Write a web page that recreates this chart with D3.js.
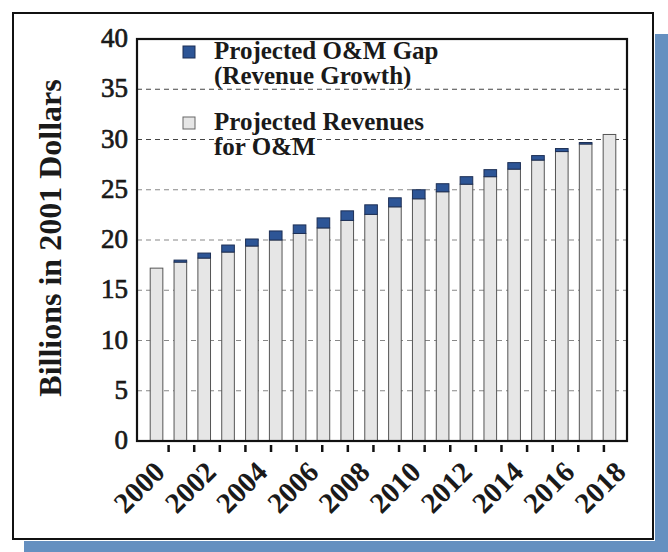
<!DOCTYPE html>
<html>
<head>
<meta charset="utf-8">
<script src="https://cdn.jsdelivr.net/npm/d3@7"></script>
<style>
  html, body { margin: 0; padding: 0; background: #fff; }
  svg { display: block; }
  text { font-family: 'Liberation Serif', 'Times New Roman', serif; fill: #1a1a1a; }
</style>
</head>
<body>
<div id="chart"></div>
<script>
// bars as drawn (one per year)
const barYears = ['2000', '2001', '2002', '2003', '2004', '2005', '2006', '2007', '2008', '2009',
  '2010', '2011', '2012', '2013', '2014', '2015', '2016', '2017', '2018', '2019'];
const revenue = [17.2, 17.8, 18.2, 18.8, 19.4, 20.0, 20.65, 21.2, 21.95, 22.55,
  23.3, 24.1, 24.8, 25.55, 26.3, 27.05, 27.95, 28.8, 29.55, 30.5];
const gap = [0, 0.2, 0.5, 0.7, 0.7, 0.9, 0.85, 1.0, 0.95, 0.95,
  0.9, 0.9, 0.8, 0.75, 0.7, 0.65, 0.45, 0.3, 0.15, 0];
// axis years (ticks / labels)
const axisYears = ['2000', '2001', '2002', '2003', '2004', '2005', '2006', '2007', '2008', '2009',
  '2010', '2011', '2012', '2013', '2014', '2015', '2016', '2017', '2018'];
const labelYears = ['2000', '2002', '2004', '2006', '2008', '2010', '2012', '2014', '2016', '2018'];
const yTicks = [0, 5, 10, 15, 20, 25, 30, 35, 40];
const legendItems = [
  { lines: ['Projected O&M Gap', '(Revenue Growth)'], color: '#2d5596' },
  { lines: ['Projected Revenues', 'for O&M'], color: '#e6e6e6' }
];

const width = 668;
const height = 552;
const plot = { left: 137, top: 39, right: 627, bottom: 441 };
const blue = '#2d5596';

const svg = d3.select('#chart')
  .append('svg')
  .attr('width', width)
  .attr('height', height);

// blue shadow behind the frame
svg.append('rect')
  .attr('x', 655).attr('y', 34)
  .attr('width', 13).attr('height', 518)
  .attr('fill', '#6590c0');
svg.append('rect')
  .attr('x', 24).attr('y', 541)
  .attr('width', 644).attr('height', 11)
  .attr('fill', '#6590c0');

// outer frame
svg.append('rect')
  .attr('x', 13).attr('y', 13)
  .attr('width', 640).attr('height', 526)
  .attr('fill', '#fff')
  .attr('stroke', '#111')
  .attr('stroke-width', 2);

const y = d3.scaleLinear()
  .domain([0, 40])
  .range([plot.bottom, plot.top]);

const xBar = d3.scaleBand()
  .domain(barYears)
  .range([139, plot.right])
  .padding(0.47);

const xAxis = d3.scaleBand()
  .domain(axisYears)
  .range([143, 629.5]);

// dashed grid lines
svg.append('g')
  .selectAll('line')
  .data(yTicks.filter(function (d) { return d > 0 && d < 40; }))
  .enter()
  .append('line')
  .attr('x1', plot.left)
  .attr('x2', plot.right)
  .attr('y1', function (d) { return y(d); })
  .attr('y2', function (d) { return y(d); })
  .attr('stroke', function (d) { return d >= 30 ? '#444' : '#888'; })
  .attr('stroke-width', 1.2)
  .attr('stroke-dasharray', '5,4');

// bars
const bar_g = svg.append('g')
  .selectAll('g')
  .data(barYears)
  .enter()
  .append('g');

bar_g.append('rect')
  .attr('x', function (d) { return xBar(d); })
  .attr('width', xBar.bandwidth())
  .attr('y', function (d, i) { return y(revenue[i]); })
  .attr('height', function (d, i) { return y(0) - y(revenue[i]); })
  .attr('fill', '#e6e6e6')
  .attr('stroke', '#555')
  .attr('stroke-width', 1);

bar_g.filter(function (d, i) { return gap[i] > 0; })
  .append('rect')
  .attr('x', function (d) { return xBar(d); })
  .attr('width', xBar.bandwidth())
  .attr('y', function (d) { const i = barYears.indexOf(d); return y(revenue[i] + gap[i]); })
  .attr('height', function (d) { const i = barYears.indexOf(d); return y(revenue[i]) - y(revenue[i] + gap[i]); })
  .attr('fill', blue)
  .attr('stroke', '#1d2f55')
  .attr('stroke-width', 1);

// plot border
svg.append('rect')
  .attr('x', plot.left).attr('y', plot.top)
  .attr('width', plot.right - plot.left)
  .attr('height', plot.bottom - plot.top)
  .attr('fill', 'none')
  .attr('stroke', '#111')
  .attr('stroke-width', 2.2);

// y tick labels
svg.append('g')
  .selectAll('text')
  .data(yTicks)
  .enter()
  .append('text')
  .attr('x', 128)
  .attr('y', function (d) { return y(d); })
  .attr('dy', '0.3em')
  .attr('text-anchor', 'end')
  .attr('font-size', '27px')
  .attr('stroke', '#1a1a1a')
  .attr('stroke-width', 0.7)
  .text(function (d) { return d; });

// y title
svg.append('text')
  .attr('transform', 'translate(61,' + ((plot.top + plot.bottom) / 2 - 2) + ') rotate(-90)')
  .attr('text-anchor', 'middle')
  .attr('font-size', '32px')
  .attr('font-weight', 'bold')
  .text('Billions in 2001 Dollars');

// x tick marks (between years)
svg.append('g')
  .selectAll('line')
  .data(axisYears.slice(1))
  .enter()
  .append('line')
  .attr('x1', function (d) { return xAxis(d); })
  .attr('x2', function (d) { return xAxis(d); })
  .attr('y1', plot.bottom + 4)
  .attr('y2', plot.bottom + 11)
  .attr('stroke', '#111')
  .attr('stroke-width', 2.5);

// x labels
svg.append('g')
  .selectAll('text')
  .data(labelYears)
  .enter()
  .append('text')
  .attr('transform', function (d) {
    return 'translate(' + (xAxis(d) + xAxis.bandwidth() / 2 - 4) + ',' + 459 + ') rotate(-45)';
  })
  .attr('text-anchor', 'end')
  .attr('dy', '0.72em')
  .attr('font-size', '29px')
  .attr('font-weight', 'bold')
  .text(function (d) { return d; });

// legend
const leg = svg.append('g');
const leg_g = leg.selectAll('g')
  .data(legendItems)
  .enter()
  .append('g')
  .attr('transform', function (d, i) { return 'translate(183,' + (46 + i * 71) + ')'; });
leg_g.append('rect')
  .attr('width', 12)
  .attr('height', 12)
  .attr('fill', function (d) { return d.color; })
  .attr('stroke', function (d, i) { return i === 0 ? '#1d2f55' : '#666'; })
  .attr('stroke-width', 1);
leg_g.selectAll('text')
  .data(function (d) { return d.lines; })
  .enter()
  .append('text')
  .attr('x', 31)
  .attr('y', function (d, i) { return 13 + i * 25; })
  .attr('font-size', '25px')
  .attr('font-weight', 'bold')
  .text(function (d) { return d; });
</script>
</body>
</html>
